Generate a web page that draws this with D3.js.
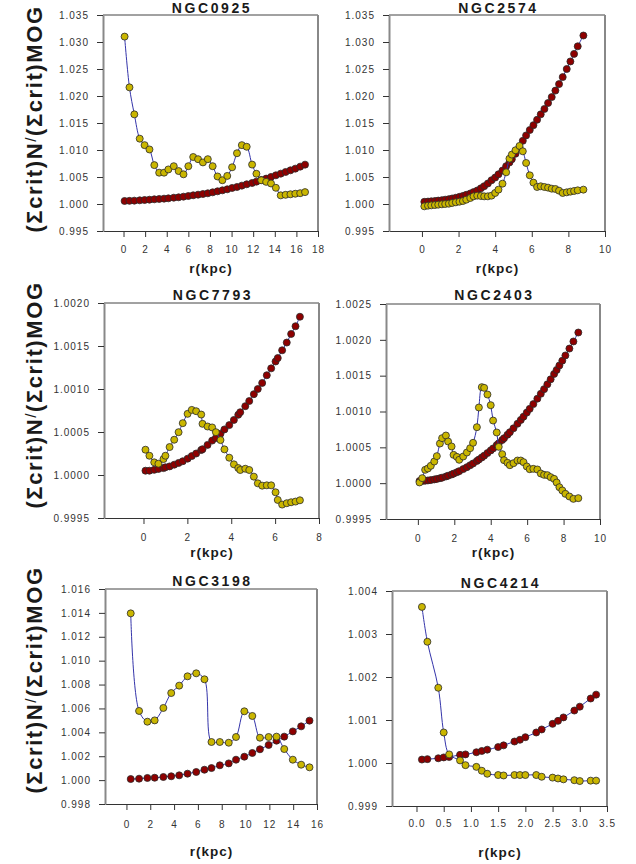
<!DOCTYPE html>
<html>
<head>
<meta charset="utf-8">
<script src="https://cdnjs.cloudflare.com/ajax/libs/d3/7.8.5/d3.min.js"></script>
<style>
body { margin: 0; background: #fff; }
svg { display: block; font-family: "Liberation Sans", Arial, sans-serif; }
.tick text { font-family: "Liberation Sans", Arial, sans-serif; font-size: 10px; letter-spacing: 1px; fill: #333; }
.tick line { stroke: #333; }
</style>
</head>
<body>
<script>
//////////////////////////////////////////////
// Data //////////////////////////////////////
//////////////////////////////////////////////
// gold = yellow markers, red = dark red markers, r in kpc

// NGC0925
var ngc0925_r = [0.1,0.55,1.0,1.5,1.95,2.4,2.85,3.3,3.75,4.15,4.65,5.1,5.55,6.0,6.45,6.9,7.35,7.8,8.25,8.7,9.15,9.6,10.05,10.5,10.95,11.4,11.9,12.3,12.75,13.2,13.65,14.1,14.55,15.0,15.45,15.9,16.35,16.8];
var ngc0925_gold = [1.0310,1.0216,1.0166,1.0121,1.0109,1.0101,1.0072,1.0058,1.0058,1.0064,1.0070,1.0061,1.0055,1.0070,1.0087,1.0083,1.0077,1.0083,1.0070,1.0051,1.0044,1.0052,1.0068,1.0094,1.0109,1.0106,1.0073,1.0056,1.0044,1.0041,1.0038,1.0030,1.0016,1.0017,1.0018,1.0019,1.0020,1.0022];
var ngc0925_red = [1.00056,1.00058,1.00062,1.00068,1.00074,1.0008,1.00087,1.00093,1.00099,1.00105,1.00117,1.00124,1.00136,1.00148,1.00161,1.00173,1.00185,1.00198,1.00216,1.00235,1.00253,1.00272,1.00297,1.00315,1.0034,1.00365,1.00389,1.00414,1.00445,1.0047,1.00501,1.00531,1.00562,1.00593,1.00624,1.00655,1.00692,1.00729];

// NGC2574
var ngc2574_r = [0.13,0.33,0.51,0.71,0.89,1.09,1.27,1.47,1.65,1.85,2.05,2.24,2.42,2.64,2.82,3.02,3.22,3.4,3.6,3.8,4.0,4.18,4.4,4.6,4.78,4.91,5.11,5.33,5.51,5.69,5.89,6.09,6.29,6.49,6.69,6.89,7.09,7.29,7.49,7.69,7.91,8.11,8.31,8.51,8.82];
var ngc2574_gold = [0.99957,0.99969,0.99975,0.99981,0.99988,0.99994,1.0,1.00006,1.00019,1.00031,1.00043,1.00056,1.0008,1.00111,1.00142,1.00155,1.00148,1.00142,1.00142,1.00155,1.00204,1.00266,1.00377,1.00587,1.0084,1.00915,1.00995,1.01075,1.00976,1.0076,1.00531,1.00396,1.00315,1.00328,1.00315,1.00303,1.00284,1.00278,1.00247,1.00204,1.00216,1.00229,1.00241,1.00253,1.00266];
var ngc2574_red = [1.0004,1.00045,1.0005,1.00056,1.00063,1.00071,1.0008,1.0009,1.00102,1.00116,1.00132,1.0015,1.0017,1.00195,1.0022,1.0025,1.0029,1.0033,1.0038,1.0044,1.0049,1.0055,1.0062,1.0070,1.0077,1.0083,1.0093,1.0105,1.0117,1.0127,1.0137,1.0146,1.0156,1.0166,1.0176,1.0187,1.0198,1.0210,1.0222,1.0235,1.0250,1.0264,1.0278,1.0292,1.0312];

// NGC7793
var ngc7793_r = [0.09,0.27,0.49,0.68,0.91,1.0,1.19,1.4,1.6,1.79,2.01,2.2,2.4,2.63,2.69,2.92,3.13,3.3,3.51,3.69,3.91,4.12,4.32,4.41,4.64,4.82,5.03,5.21,5.41,5.62,5.82,6.02,6.12,6.32,6.53,6.73,6.93,7.13];
var ngc7793_gold = [1.000294,1.000224,1.000147,1.000131,1.000185,1.000224,1.000325,1.00041,1.000498,1.000603,1.000711,1.000757,1.000742,1.000703,1.000595,1.000564,1.000553,1.000498,1.000406,1.000298,1.000201,1.000124,1.000081,1.000058,1.000073,1.000058,0.999981,0.999903,0.999876,0.99988,0.99988,0.999799,0.99971,0.999656,0.999672,0.999683,0.999691,0.999706];
var ngc7793_red = [1.00005,1.00005,1.00006,1.00007,1.00008,1.00009,1.0001,1.00012,1.00014,1.00016,1.00019,1.00022,1.00025,1.00029,1.0003,1.00035,1.0004,1.00043,1.00048,1.00053,1.00058,1.00064,1.0007,1.00073,1.0008,1.00086,1.00094,1.001,1.00107,1.00116,1.00124,1.00132,1.00136,1.00145,1.00154,1.00164,1.00173,1.00184];

// NGC2403
var ngc2403_r = [0.09,0.24,0.4,0.55,0.71,0.9,1.04,1.21,1.33,1.54,1.66,1.85,1.96,2.14,2.27,2.49,2.69,2.87,3.03,3.24,3.35,3.51,3.64,3.82,4.0,4.13,4.33,4.44,4.63,4.73,4.92,5.05,5.25,5.47,5.65,5.8,5.98,6.14,6.34,6.56,6.75,6.93,7.11,7.29,7.48,7.62,7.77,7.93,8.1,8.32,8.54,8.81];
var ngc2403_gold = [1.00001,1.00007,1.000186,1.000205,1.000242,1.000302,1.000377,1.000553,1.000628,1.000665,1.000581,1.000512,1.000395,1.000367,1.000326,1.000372,1.000428,1.000488,1.000563,1.000781,1.001056,1.00134,1.00133,1.001237,1.001088,1.000874,1.000707,1.000507,1.000405,1.000321,1.000284,1.000251,1.000279,1.000316,1.000316,1.000293,1.000233,1.000195,1.0002,1.000191,1.000135,1.000116,1.000112,1.000084,1.00006,1.000009,0.999944,0.999898,0.999851,0.999814,0.999781,0.999791];
var ngc2403_red = [1.00003,1.00003,1.000034,1.000038,1.000043,1.000052,1.000059,1.000069,1.000077,1.000093,1.000104,1.000121,1.000133,1.000152,1.000168,1.000196,1.000223,1.00025,1.000275,1.00031,1.00033,1.000359,1.000384,1.00042,1.000457,1.000485,1.000531,1.000556,1.000602,1.000627,1.000676,1.000711,1.000766,1.000829,1.000882,1.000928,1.000985,1.001037,1.001103,1.001179,1.001247,1.001312,1.00138,1.001449,1.001524,1.00158,1.001642,1.001709,1.001782,1.001878,1.001977,1.002102];

// NGC3198
var ngc3198_r = [0.36,1.06,1.76,2.37,3.1,3.76,4.43,5.13,5.86,6.55,7.14,7.84,8.59,9.2,9.9,10.57,11.21,11.94,12.6,13.25,13.97,14.67,15.37];
var ngc3198_gold = [1.01396,1.00579,1.00489,1.005,1.00604,1.00729,1.00791,1.00869,1.00894,1.00844,1.00319,1.00319,1.00313,1.00361,1.00576,1.00537,1.00355,1.00361,1.00364,1.0026,1.00171,1.00129,1.00107];
var ngc3198_red = [1.00009,1.00012,1.00018,1.0002,1.00026,1.00032,1.0004,1.00054,1.00068,1.00087,1.00101,1.00124,1.0014,1.00171,1.00196,1.00227,1.00258,1.00294,1.0033,1.00364,1.00408,1.0045,1.00498];

// NGC4214
var ngc4214_r = [0.1,0.2,0.4,0.5,0.6,0.8,0.9,1.1,1.2,1.3,1.5,1.6,1.8,1.9,2.0,2.2,2.3,2.5,2.6,2.7,2.9,3.0,3.2,3.3];
var ngc4214_gold = [1.00363,1.00282,1.00175,1.00071,1.0002,1.00006,0.99995,0.99991,0.99982,0.99975,0.99972,0.99971,0.99972,0.99972,0.99972,0.99972,0.99968,0.99966,0.99964,0.99962,0.9996,0.99958,0.99959,0.99959];
var ngc4214_red = [1.00008,1.00009,1.00011,1.00013,1.00014,1.00019,1.0002,1.00025,1.00028,1.00031,1.00037,1.00041,1.0005,1.00054,1.0006,1.00071,1.00078,1.00091,1.00098,1.00106,1.00122,1.00131,1.0015,1.00159];

// tick labels
var xTicks18 = [0,2,4,6,8,10,12,14,16,18];
var xTicks16 = [0,2,4,6,8,10,12,14,16];
var xTicks10 = [0,2,4,6,8,10];
var xTicks8 = [0,2,4,6,8];
var xTicks35 = [0.0,0.5,1.0,1.5,2.0,2.5,3.0,3.5];
var yTicks035 = [0.995,1.000,1.005,1.010,1.015,1.020,1.025,1.030,1.035];
var yTicks0020 = [0.9995,1.0000,1.0005,1.0010,1.0015,1.0020];
var yTicks0025 = [0.9995,1.0000,1.0005,1.0010,1.0015,1.0020,1.0025];
var yTicks016 = [0.998,1.000,1.002,1.004,1.006,1.008,1.010,1.012,1.014,1.016];
var yTicks004 = [0.999,1.000,1.001,1.002,1.003,1.004];

var yLabelRows = [119, 395, 680];

//////////////////////////////////////////////
// Chart Config //////////////////////////////
//////////////////////////////////////////////
function pts(r, v) {
	return r.map(function(d, i) { return {r: d, v: v[i]}; });
}

// box = [left, top, right, bottom]
var panels = [
	{name: "NGC0925", gold: pts(ngc0925_r, ngc0925_gold), red: pts(ngc0925_r, ngc0925_red),
	 xDomain: [-1.9, 18], yDomain: [0.995, 1.035], xTicks: xTicks18, yTicks: yTicks035, xFmt: "d", yFmt: ".3f",
	 box: [103, 15, 318, 231], titleY: 13, xLabelY: 273, xPad: 9},
	{name: "NGC2574", gold: pts(ngc2574_r, ngc2574_gold), red: pts(ngc2574_r, ngc2574_red),
	 xDomain: [-1.8, 10], yDomain: [0.995, 1.035], xTicks: xTicks10, yTicks: yTicks035, xFmt: "d", yFmt: ".3f",
	 box: [389, 15, 605, 231], titleY: 13, xLabelY: 273, xPad: 9},
	{name: "NGC7793", gold: pts(ngc7793_r, ngc7793_gold), red: pts(ngc7793_r, ngc7793_red),
	 xDomain: [-1.8, 8], yDomain: [0.9995, 1.0020], xTicks: xTicks8, yTicks: yTicks0020, xFmt: "d", yFmt: ".4f",
	 box: [104, 303, 319, 518], titleY: 299.5, xLabelY: 557, xPad: 9.5},
	{name: "NGC2403", gold: pts(ngc2403_r, ngc2403_gold), red: pts(ngc2403_r, ngc2403_red),
	 xDomain: [-1.75, 10], yDomain: [0.9995, 1.0025], xTicks: xTicks10, yTicks: yTicks0025, xFmt: "d", yFmt: ".4f",
	 box: [386, 304, 600, 519], titleY: 300, xLabelY: 557, xPad: 9.5},
	{name: "NGC3198", gold: pts(ngc3198_r, ngc3198_gold), red: pts(ngc3198_r, ngc3198_red),
	 xDomain: [-1.8, 16], yDomain: [0.998, 1.016], xTicks: xTicks16, yTicks: yTicks016, xFmt: "d", yFmt: ".3f",
	 box: [105, 589, 317, 804], titleY: 586, xLabelY: 856, xPad: 10.5},
	{name: "NGC4214", gold: pts(ngc4214_r, ngc4214_gold), red: pts(ngc4214_r, ngc4214_red),
	 xDomain: [-0.45, 3.5], yDomain: [0.999, 1.004], xTicks: xTicks35, yTicks: yTicks004, xFmt: ".1f", yFmt: ".3f",
	 box: [392, 591, 607, 806], titleY: 588, xLabelY: 857, xPad: 8}
];

var goldFill = "#cab600",
	redFill = "#8e0000",
	lineColor = "#3434aa";

var svg = d3.select("body")
			.append("svg")
			.attr("width", 636)
			.attr("height", 864);

//////////////////////////////////////////////
// Drawing ///////////////////////////////////
//////////////////////////////////////////////
function drawPanel(p) {
	var b = p.box;
	var xScale = d3.scaleLinear().domain(p.xDomain).range([b[0], b[2]]);
	var yScale = d3.scaleLinear().domain(p.yDomain).range([b[3], b[1]]);
	var g = svg.append("g");

	// frame top / right
	g.append("line").attr("x1", b[0]).attr("x2", b[2]).attr("y1", b[1]).attr("y2", b[1])
	 .attr("stroke", "#444").attr("stroke-width", 1);
	g.append("line").attr("x1", b[2]).attr("x2", b[2]).attr("y1", b[1]).attr("y2", b[3])
	 .attr("stroke", "#888").attr("stroke-width", 2);

	// axes
	var xAxis = d3.axisBottom(xScale).tickValues(p.xTicks).tickFormat(d3.format(p.xFmt))
				  .tickSize(6).tickSizeOuter(0).tickPadding(p.xPad);
	var xAxisEl = g.append("g").attr("transform", "translate(0," + b[3] + ")").call(xAxis);
	xAxisEl.select(".domain").attr("stroke", "#333");

	var yAxis = d3.axisLeft(yScale).tickValues(p.yTicks).tickFormat(d3.format(p.yFmt))
				  .tickSize(6).tickSizeOuter(0).tickPadding(8);
	var yAxisEl = g.append("g").attr("transform", "translate(" + b[0] + ",0)").call(yAxis);
	yAxisEl.select(".domain").attr("stroke", "#888").attr("stroke-width", 2);

	// title and x label
	g.append("text").attr("x", (b[0] + b[2]) / 2 + 1.5).attr("y", p.titleY)
	 .attr("text-anchor", "middle").style("font-size", "14px").style("font-weight", "bold")
	 .style("letter-spacing", "2.6px").attr("fill", "#1a1a1a").text(p.name);
	g.append("text").attr("x", (b[0] + b[2]) / 2 + 0.5).attr("y", p.xLabelY)
	 .attr("text-anchor", "middle").style("font-size", "13.5px").style("font-weight", "bold")
	 .style("letter-spacing", "1px").attr("fill", "#1a1a1a").text("r(kpc)");

	var line = d3.line()
				 .x(function(d) { return xScale(d.r); })
				 .y(function(d) { return yScale(d.v); })
				 .curve(d3.curveCatmullRom);

	[[p.red, redFill], [p.gold, goldFill]].forEach(function(s) {
		g.append("path").datum(s[0])
		 .attr("d", line)
		 .style("fill", "none")
		 .style("stroke", lineColor)
		 .style("stroke-width", "1px");
		g.selectAll(null).data(s[0]).enter().append("circle")
		 .attr("cx", function(d) { return xScale(d.r); })
		 .attr("cy", function(d) { return yScale(d.v); })
		 .attr("r", 3.5)
		 .attr("fill", s[1])
		 .attr("stroke", "#2a2a2a")
		 .attr("stroke-width", 0.8);
	});
}

panels.forEach(drawPanel);

// y axis labels, one per row
yLabelRows.forEach(function(cy) {
	var t = svg.append("text")
			   .attr("transform", "translate(42," + cy + ") rotate(-90)")
			   .attr("text-anchor", "middle")
			   .style("font-size", "22px")
			   .style("font-weight", "bold")
			   .style("letter-spacing", "1.6px")
			   .attr("fill", "#1a1a1a");
	t.append("tspan").text("(\u03A3crit)N");
	t.append("tspan").style("font-size", "15px").style("font-weight", "normal").attr("dy", -6).text("/");
	t.append("tspan").attr("dy", 6).text("(\u03A3crit)MOG");
});
</script>
</body>
</html>
